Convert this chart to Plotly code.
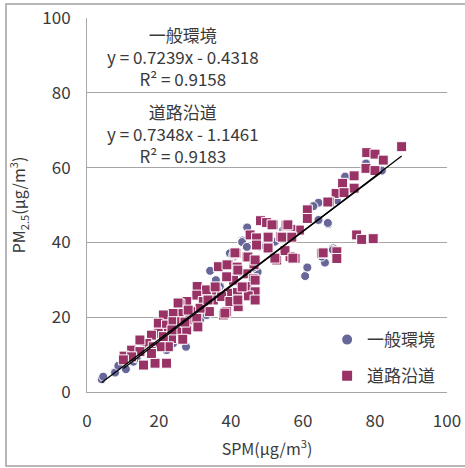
import numpy as np
import plotly.graph_objects as go

# SPM vs PM2.5 (μg/m3) by monitoring station type
general_spm = [4.1, 4.5, 7.8, 8.7, 10.8, 12.9, 13.8, 27.5, 22.1, 34.2, 35.8, 44.5, 43.2, 44.5,
               60.6, 61.2, 67.0, 64.3, 66.1, 65.2, 68.4, 64.3, 81.9, 77.5, 71.7, 62.9, 40.7,
               39.7, 47.4, 47.9, 52.2, 54.5, 36.9, 31.4, 33.2, 20.3, 23.9, 15.9, 17.5, 25.8,
               27.7, 41.1, 46.2, 69.4, 43.1, 44.4, 40.6, 66.9, 68.3]
general_pm25 = [3.4, 4.1, 5.2, 7.0, 6.1, 8.1, 9.0, 12.1, 11.2, 32.4, 29.9, 44.0, 40.5, 38.7,
                31.0, 33.3, 44.9, 46.0, 34.6, 36.2, 38.4, 50.6, 59.2, 61.1, 57.6, 49.7, 36.2,
                37.1, 32.1, 38.9, 40.2, 43.3, 28.2, 19.3, 20.6, 15.7, 13.0, 12.1, 9.9, 17.9,
                21.9, 31.6, 33.3, 51.3, 40.1, 38.8, 36.6, 45.2, 38.0]

road_spm = [87.4, 77.7, 80.0, 82.3, 77.5, 80.0, 74.2, 71.0, 74.2, 69.2, 71.4, 67.3, 61.2, 61.2,
            59.0, 56.6, 55.3, 51.8, 48.2, 49.9, 45.3, 50.4, 53.8, 56.4, 47.1, 74.9, 76.3, 79.5,
            69.4, 69.4, 65.2, 56.4, 57.8, 52.7, 55.0, 50.4, 47.1, 44.4, 46.4, 41.4, 39.3, 36.5,
            41.6, 44.4, 40.7, 38.8, 46.2, 44.4, 30.6, 33.2, 36.0, 39.3, 41.8, 46.7, 44.8, 46.7,
            30.5, 27.7, 25.8, 32.3, 35.1, 37.4, 39.7, 42.0, 42.0, 38.8, 37.9, 34.0, 31.4, 28.8,
            25.8, 23.9, 21.2, 19.8, 22.1, 23.9, 26.3, 28.6, 30.5, 19.8, 22.6, 25.6, 27.7, 26.6,
            23.5, 21.2, 17.9, 16.6, 14.7, 18.4, 22.6, 20.3, 12.4, 14.7, 17.9, 10.3, 12.4, 15.7,
            18.9, 22.1, 10.1, 17.9,
            38.9, 41.7, 41.1, 44.7, 25.3, 28.1, 33.6, 38.3, 41.9, 27.2, 23.6, 30.8, 35.6, 43.1,
            51.4, 55.8, 50.3, 54.2, 56.9, 50.3, 46.7, 52.2, 41.9, 46.7, 66.9, 65.6, 57.2]
road_pm25 = [65.6, 64.0, 63.6, 62.0, 59.8, 59.2, 57.8, 55.8, 54.5, 53.1, 53.3, 50.8, 48.7, 46.4,
             43.3, 43.5, 44.6, 44.7, 45.8, 45.3, 42.0, 41.6, 41.6, 41.6, 41.2, 42.0, 40.8, 41.0,
             37.5, 35.7, 37.1, 36.2, 35.7, 35.3, 37.8, 38.4, 39.3, 36.2, 34.0, 37.1, 34.0, 33.5,
             32.3, 31.6, 29.9, 30.8, 30.3, 28.2, 28.2, 27.3, 26.8, 26.4, 26.6, 26.8, 25.7, 24.6,
             25.9, 24.2, 23.5, 24.2, 24.6, 25.5, 24.2, 24.6, 22.8, 21.5, 20.6, 21.5, 22.4, 21.5,
             21.0, 21.0, 20.6, 18.4, 17.9, 18.8, 18.8, 19.3, 19.7, 15.7, 15.7, 16.1, 16.6, 14.1,
             14.3, 14.8, 15.2, 13.0, 13.9, 12.1, 12.1, 12.1, 11.2, 10.8, 10.8, 9.6, 9.4, 7.2,
             7.7, 7.7, 8.6, 10.3,
             34.0, 33.4, 37.2, 36.1, 23.8, 21.9, 24.6, 21.1, 24.6, 18.7, 16.6, 17.4, 28.1, 28.1,
             44.7, 44.7, 41.4, 41.4, 41.4, 38.5, 35.3, 35.8, 32.6, 29.9, 50.8, 37.2, 35.8]

# Linear fits (slope, intercept, R²)
general_fit = (0.7239, -0.4318, 0.9158)
road_fit = (0.7348, -1.1461, 0.9183)

x_ticks = [0, 20, 40, 60, 80, 100]
y_ticks = [0, 20, 40, 60, 80, 100]

FONT = "Noto Sans CJK JP"
TXT = "#3a3a3a"
GRID = "#a6a6a6"

fig = go.Figure()

fig.add_trace(go.Scatter(
    x=general_spm, y=general_pm25, mode="markers", name="一般環境",
    legendgroup="g1",
    marker=dict(symbol="circle", size=9, color="#666699",
                line=dict(color="white", width=1)),
))
fig.add_trace(go.Scatter(
    x=road_spm, y=road_pm25, mode="markers", name="道路沿道",
    legendgroup="g2",
    marker=dict(symbol="square", size=10, color="#993366",
                line=dict(color="white", width=1)),
))

# Fitted lines over each series' SPM range
for xs, (a, b, _) in [(general_spm, general_fit), (road_spm, road_fit)]:
    xr = np.array([min(xs), max(xs)])
    fig.add_trace(go.Scatter(
        x=xr, y=a * xr + b, mode="lines", showlegend=False,
        line=dict(color="black", width=1.3), hoverinfo="skip",
    ))

def fit_label(name, fit):
    a, b, r2 = fit
    sign = "-" if b < 0 else "+"
    return f"{name}<br>y = {a:.4f}x {sign} {abs(b):.4f}<br>R² = {r2:.4f}"

for name, fit, yv in [("一般環境", general_fit, 89.8), ("道路沿道", road_fit, 69.0)]:
    fig.add_annotation(x=26.7, y=yv, xref="x", yref="y", text=fit_label(name, fit),
                       showarrow=False, xanchor="center", yanchor="middle", align="center",
                       font=dict(family=FONT, size=17, color=TXT))

# Chart frame
fig.add_shape(type="rect", xref="paper", yref="paper",
              x0=-0.225, x1=1.06, y0=-0.198, y1=1.0374,
              line=dict(color="#a0a0a0", width=1.5), layer="below")

fig.update_layout(
    width=465, height=468,
    margin=dict(l=87, r=18, t=18, b=76, autoexpand=False),
    paper_bgcolor="white", plot_bgcolor="white",
    font=dict(family=FONT, size=17, color=TXT),
    showlegend=True,
    legend=dict(x=0.667, y=0.187, xanchor="left", yanchor="top",
                bgcolor="rgba(0,0,0,0)", tracegroupgap=11,
                font=dict(family=FONT, size=17, color=TXT),
                itemsizing="constant"),
    xaxis=dict(range=[0, 100], tickvals=x_ticks, showgrid=False, zeroline=False,
               showline=True, linecolor=GRID, linewidth=1, automargin=False,
               ticks="outside", ticklen=14, tickcolor="rgba(0,0,0,0)",
               tickfont=dict(family=FONT, size=17, color=TXT),
               title=dict(text="SPM(μg/m<sup>3</sup>)", standoff=12,
                          font=dict(family=FONT, size=16, color=TXT))),
    yaxis=dict(range=[0, 100], tickvals=y_ticks, showgrid=True, gridcolor=GRID, gridwidth=1,
               zeroline=False, showline=True, linecolor=GRID, linewidth=1, automargin=False,
               ticks="outside", ticklen=12, tickcolor="rgba(0,0,0,0)",
               tickfont=dict(family=FONT, size=17, color=TXT),
               title=dict(text="PM<sub>2.5</sub>(μg/m<sup>3</sup>)", standoff=12,
                          font=dict(family=FONT, size=16, color=TXT))),
)

fig.write_html("out.html")
